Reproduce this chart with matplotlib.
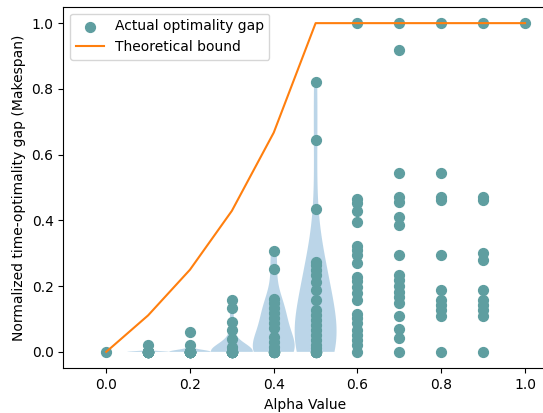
import matplotlib
matplotlib.use("Agg")
import matplotlib.pyplot as plt
import numpy as np

# alpha values on the x axis
alphas = [0.0, 0.1, 0.2, 0.3, 0.4, 0.5, 0.6, 0.7, 0.8, 0.9, 1.0]

# observed optimality gaps for each alpha (read off the picture,
# zeros repeated since many runs overlap at 0)
gap_00 = [0.0]
gap_01 = [0.0] * 20 + [0.02]
gap_02 = [0.0] * 25 + [0.02, 0.06]
gap_03 = [0.0] * 18 + [0.016, 0.04, 0.067, 0.092, 0.133, 0.158]
gap_04 = [0.0] * 8 + [0.016, 0.031, 0.046, 0.072, 0.087, 0.102, 0.117,
                      0.132, 0.148, 0.16, 0.251, 0.307]
gap_05 = [0.0] * 7 + [0.011, 0.021, 0.036, 0.052, 0.067, 0.082, 0.097,
                      0.112, 0.127, 0.158, 0.188, 0.213, 0.233, 0.248,
                      0.264, 0.274, 0.434, 0.645, 0.822]
gap_06 = [1.0, 0.466, 0.452, 0.43, 0.394, 0.321, 0.311, 0.294, 0.269, 0.228,
          0.216, 0.198, 0.178, 0.158, 0.115, 0.102, 0.087, 0.067, 0.052,
          0.036, 0.021, 0.0]
gap_07 = [1.0, 0.917, 0.543, 0.471, 0.455, 0.41, 0.385, 0.294, 0.233, 0.218,
          0.2, 0.183, 0.166, 0.148, 0.109, 0.069, 0.042, 0.0]
gap_08 = [1.0, 0.543, 0.471, 0.463, 0.294, 0.188, 0.158, 0.142, 0.127, 0.109,
          0.0]
gap_09 = [1.0, 0.471, 0.463, 0.3, 0.28, 0.188, 0.158, 0.142, 0.127, 0.109, 0.0]
gap_10 = [1.0]

gaps = [gap_00, gap_01, gap_02, gap_03, gap_04, gap_05,
        gap_06, gap_07, gap_08, gap_09, gap_10]

# theoretical bound per alpha
bound = [0.0, 0.111, 0.25, 0.429, 0.667, 1.0, 1.0, 1.0, 1.0, 1.0, 1.0]

# violins only for the low alpha values
violin_alphas = [0.1, 0.2, 0.3, 0.4, 0.5]
violin_data = [gap_01, gap_02, gap_03, gap_04, gap_05]

fig = plt.figure(figsize=(5.43, 4.13), dpi=100)
ax = fig.add_axes([63.3 / 543, (413 - 368.3) / 413,
                   (547 - 63.3) / 543, (368.3 - 6.7) / 413])

vp = ax.violinplot(violin_data, positions=violin_alphas, widths=0.1,
                   showextrema=False)
for body in vp['bodies']:
    body.set_facecolor('#1f77b4')
    body.set_edgecolor('none')
    body.set_alpha(0.3)

xs = []
ys = []
for a, g in zip(alphas, gaps):
    xs += [a] * len(g)
    ys += g
sc = ax.scatter(xs, ys, s=50, color='cadetblue', label='Actual optimality gap')
ln, = ax.plot(alphas, bound, color='C1', label='Theoretical bound')

ax.set_xlim(-0.1025, 1.0525)
ax.set_ylim(-0.05, 1.05)
ax.set_xlabel('Alpha Value')
ax.set_ylabel('Normalized time-optimality gap (Makespan)')
ax.legend(handles=[sc, ln], loc='upper left')

fig.savefig('out.png', dpi=100)
